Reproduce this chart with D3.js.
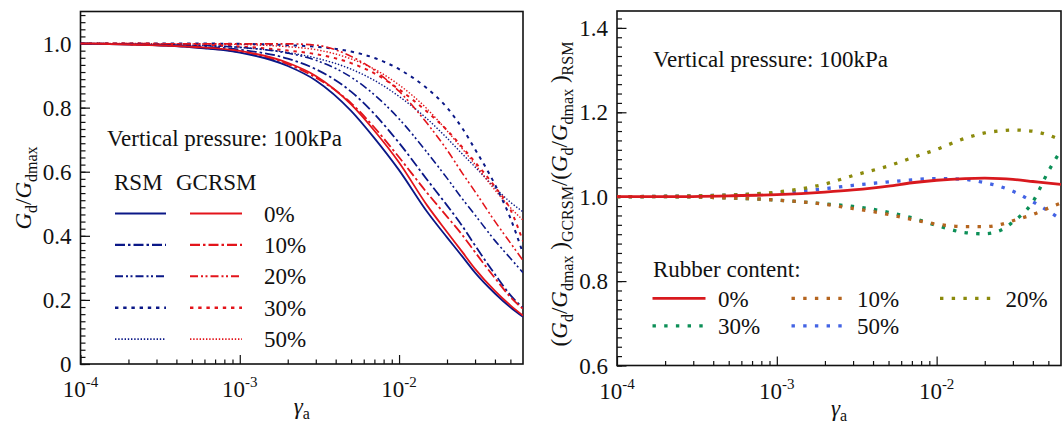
<!DOCTYPE html>
<html>
<head>
<meta charset="utf-8">
<script src="https://cdn.jsdelivr.net/npm/d3@7"></script>
<style>
body { margin: 0; background: #fff; }
svg text { font-family: "Liberation Serif", "Tinos", "Times New Roman", Times, "Nimbus Roman", "Nimbus Roman No9 L", FreeSerif, "Noto Serif", "DejaVu Serif", serif; }
</style>
</head>
<body>
<svg id="chart" width="1062" height="427"></svg>
<script>
// shear strain amplitude grid (read points)
var gamma = [1e-4, 2e-4, 5e-4, 1e-3, 2e-3, 3e-3, 5e-3, 7e-3, 1e-2, 1.5e-2, 2e-2, 2.5e-2, 3e-2, 4e-2, 5e-2, 6e-2];
var contents = ['0%', '10%', '20%', '30%', '50%'];

// left panel: Gd/Gdmax, RSM
var rsm0  = [1.0, 0.997, 0.988, 0.972, 0.930, 0.885, 0.790, 0.705, 0.605, 0.475, 0.395, 0.335, 0.285, 0.220, 0.177, 0.147];
var rsm10 = [1.0, 0.998, 0.992, 0.981, 0.953, 0.920, 0.850, 0.780, 0.690, 0.575, 0.495, 0.430, 0.370, 0.280, 0.215, 0.175];
var rsm20 = [1.0, 0.999, 0.995, 0.988, 0.970, 0.948, 0.895, 0.840, 0.765, 0.660, 0.580, 0.515, 0.465, 0.385, 0.330, 0.285];
var rsm30 = [1.0, 1.0, 1.0, 0.999, 0.995, 0.990, 0.975, 0.955, 0.920, 0.860, 0.800, 0.735, 0.670, 0.560, 0.455, 0.345];
var rsm50 = [1.0, 0.999, 0.995, 0.988, 0.972, 0.955, 0.920, 0.885, 0.835, 0.765, 0.705, 0.655, 0.615, 0.550, 0.505, 0.475];
// left panel: Gd/Gdmax, GCRSM
var gcrsm0  = [1.0, 0.997, 0.990, 0.977, 0.940, 0.899, 0.810, 0.728, 0.629, 0.495, 0.412, 0.349, 0.297, 0.228, 0.183, 0.151];
var gcrsm10 = [1.0, 0.998, 0.989, 0.973, 0.936, 0.894, 0.814, 0.738, 0.645, 0.534, 0.460, 0.402, 0.349, 0.268, 0.209, 0.172];
var gcrsm20 = [1.0, 1.0, 0.999, 0.999, 0.999, 0.995, 0.960, 0.917, 0.851, 0.751, 0.668, 0.595, 0.538, 0.445, 0.378, 0.323];
var gcrsm30 = [1.0, 1.0, 0.997, 0.991, 0.978, 0.967, 0.939, 0.907, 0.857, 0.787, 0.730, 0.676, 0.630, 0.553, 0.482, 0.383];
var gcrsm50 = [1.0, 1.0, 0.999, 0.997, 0.990, 0.981, 0.952, 0.920, 0.871, 0.796, 0.728, 0.671, 0.623, 0.543, 0.488, 0.449];

// right panel: (Gd/Gdmax)GCRSM / (Gd/Gdmax)RSM
var ratio0  = [1.0, 1.0, 1.002, 1.005, 1.011, 1.016, 1.025, 1.033, 1.039, 1.043, 1.044, 1.043, 1.041, 1.036, 1.032, 1.029];
var ratio10 = [1.0, 1.0, 0.997, 0.992, 0.982, 0.972, 0.958, 0.946, 0.935, 0.929, 0.929, 0.934, 0.943, 0.958, 0.973, 0.985];
var ratio20 = [1.0, 1.001, 1.004, 1.011, 1.030, 1.050, 1.073, 1.092, 1.112, 1.138, 1.151, 1.156, 1.158, 1.155, 1.146, 1.134];
var ratio30 = [1.0, 1.0, 0.997, 0.992, 0.983, 0.977, 0.963, 0.950, 0.932, 0.915, 0.912, 0.920, 0.940, 0.988, 1.060, 1.110];
var ratio50 = [1.0, 1.001, 1.004, 1.009, 1.019, 1.027, 1.035, 1.040, 1.043, 1.041, 1.033, 1.024, 1.013, 0.988, 0.966, 0.946];

var xTicks = [1e-4, 1e-3, 1e-2];
var xTickExp = ['-4', '-3', '-2'];
var yTicksLeft = [0, 0.2, 0.4, 0.6, 0.8, 1.0];
var yLabelsLeft = ['0', '0.2', '0.4', '0.6', '0.8', '1.0'];
var yTicksRight = [0.6, 0.8, 1.0, 1.2, 1.4];
var yLabelsRight = ['0.6', '0.8', '1.0', '1.2', '1.4'];

var navy = '#0b1887', red = '#e3141b';
var leftDash = [null, '10,3,2.5,3', '8,3,2,2.5,2,3', '3.4,4.8', '1.4,1.8'];
var leftWidth = [1.8, 1.8, 1.6, 2, 1.4];
var rightColors = ['#d8191e', '#b5651f', '#8b8a0c', '#0c8f57', '#4363e4'];

var svg = d3.select('#chart');

var xL = d3.scaleLog().domain([1e-4, 6e-2]).range([80.5, 523]);
var yL = d3.scaleLinear().domain([0, 1.1]).range([364, 11.5]);
var xR = d3.scaleLog().domain([1e-4, 6e-2]).range([617, 1061]);
var yR = d3.scaleLinear().domain([0.6, 1.44]).range([365.5, 11]);

function txt(g) {
    return g.append('text')
        .attr('fill', '#111')
        .attr('font-size', 23);
}

function frame(x, y, yMajor, yLabels, minorStep, clipId) {
    var x0 = x.range()[0], x1 = x.range()[1], y0 = y.range()[0], y1 = y.range()[1];
    var g = svg.append('g');

    var xMinor = [];
    xTicks.forEach(function(dec) {
        for (var k = 2; k <= 9; k++) {
            if (dec * k < x.domain()[1] * 0.999) xMinor.push(dec * k);
        }
    });
    var yMinor = d3.range(y.domain()[0], y.domain()[1], minorStep);

    g.append('g').attr('transform', 'translate(0,' + y0 + ')')
        .call(d3.axisBottom(x).tickValues(xMinor).tickSize(-4.5).tickFormat(''));
    g.append('g').attr('transform', 'translate(0,' + y0 + ')')
        .call(d3.axisBottom(x).tickValues(xTicks).tickSize(-9).tickFormat(''));
    g.append('g').attr('transform', 'translate(' + x0 + ',0)')
        .call(d3.axisLeft(y).tickValues(yMinor).tickSize(-5).tickFormat(''));
    g.append('g').attr('transform', 'translate(' + x0 + ',0)')
        .call(d3.axisLeft(y).tickValues(yMajor).tickSize(-9.5).tickFormat(''));
    g.selectAll('.domain').remove();
    g.selectAll('.tick line').attr('stroke', '#111').attr('stroke-width', 1.2);

    g.append('rect')
        .attr('x', x0).attr('y', y1)
        .attr('width', x1 - x0).attr('height', y0 - y1)
        .attr('fill', 'none').attr('stroke', '#111').attr('stroke-width', 1.6);

    // tick labels
    xTicks.forEach(function(v, i) {
        var t = txt(g)
            .attr('x', x(v)).attr('y', y0 + 33)
            .attr('text-anchor', 'middle');
        t.append('tspan').text('10');
        t.append('tspan').attr('dy', -10).attr('font-size', 15).text(xTickExp[i]);
    });
    yMajor.forEach(function(v, i) {
        txt(g)
            .attr('x', x0 - 9).attr('y', y(v) + 8)
            .attr('text-anchor', 'end')
            .text(yLabels[i]);
    });

    svg.append('clipPath').attr('id', clipId)
        .append('rect').attr('x', x0).attr('y', y1)
        .attr('width', x1 - x0).attr('height', y0 - y1);

    // x title
    var xt = txt(g)
        .attr('x', (x0 + x1) / 2).attr('y', y0 + 50)
        .attr('text-anchor', 'middle');
    xt.append('tspan').attr('font-style', 'italic').text('\u03b3');
    xt.append('tspan').attr('dy', 5).attr('font-size', 16).text('a');
}

function addPart(t, s, italic, sub) {
    var p = t.append('tspan').text(s);
    if (italic) p.attr('font-style', 'italic');
    if (sub === 1) p.attr('dy', 6).attr('font-size', 16);
    if (sub === -1) p.attr('dy', -6);
    return p;
}

// ---------- left panel ----------
frame(xL, yL, yTicksLeft, yLabelsLeft, 0.2 / 9, 'clipL');

var lineL = d3.line()
    .x(function(d) { return xL(d[0]); })
    .y(function(d) { return yL(d[1]); })
    .curve(d3.curveMonotoneX);

var rsmSeries = [rsm0, rsm10, rsm20, rsm30, rsm50];
var gcrsmSeries = [gcrsm0, gcrsm10, gcrsm20, gcrsm30, gcrsm50];

var plotL = svg.append('g').attr('clip-path', 'url(#clipL)');
[4, 3, 2, 1, 0].forEach(function(i) {
    [[rsmSeries[i], navy], [gcrsmSeries[i], red]].forEach(function(s) {
        plotL.append('path')
            .datum(gamma.map(function(g, j) { return [g, s[0][j]]; }))
            .attr('d', lineL)
            .attr('fill', 'none')
            .attr('stroke', s[1])
            .attr('stroke-width', leftWidth[i])
            .attr('stroke-dasharray', leftDash[i]);
    });
});

txt(svg).attr('x', 107).attr('y', 146).text('Vertical pressure: 100kPa');
txt(svg).attr('x', 114).attr('y', 190).text('RSM');
txt(svg).attr('x', 176).attr('y', 190).text('GCRSM');

contents.forEach(function(c, i) {
    var yy = 213.5 + i * 31.4;
    [[115, 166, navy], [190, 242, red]].forEach(function(s) {
        svg.append('line')
            .attr('x1', s[0]).attr('x2', s[1]).attr('y1', yy).attr('y2', yy)
            .attr('stroke', s[2])
            .attr('stroke-width', leftWidth[i] + 0.4)
            .attr('stroke-dasharray', leftDash[i]);
    });
    txt(svg).attr('x', 264).attr('y', yy + 8).text(c);
});

var ytL = txt(svg)
    .attr('transform', 'translate(31,188) rotate(-90)')
    .attr('text-anchor', 'middle');
addPart(ytL, 'G', true, 0);
addPart(ytL, 'd', false, 1);
addPart(ytL, '/', false, -1);
addPart(ytL, 'G', true, 0);
addPart(ytL, 'dmax', false, 1);

// ---------- right panel ----------
frame(xR, yR, yTicksRight, yLabelsRight, 0.2 / 9, 'clipR');

var lineR = d3.line()
    .x(function(d) { return xR(d[0]); })
    .y(function(d) { return yR(d[1]); })
    .curve(d3.curveMonotoneX);

var ratioSeries = [ratio0, ratio10, ratio20, ratio30, ratio50];
var plotR = svg.append('g').attr('clip-path', 'url(#clipR)');
[4, 3, 2, 1, 0].forEach(function(i) {
    plotR.append('path')
        .datum(gamma.map(function(g, j) { return [g, ratioSeries[i][j]]; }))
        .attr('d', lineR)
        .attr('fill', 'none')
        .attr('stroke', rightColors[i])
        .attr('stroke-width', i === 0 ? 2.8 : 3.3)
        .attr('stroke-dasharray', i === 0 ? null : '3.4,8.3');
});

txt(svg).attr('x', 653).attr('y', 67).text('Vertical pressure: 100kPa');
txt(svg).attr('x', 653).attr('y', 277).text('Rubber content:');

var legPos = [[652.5, 298.3], [791.5, 298.3], [940, 298.3], [652.5, 325.8], [791.5, 325.8]];
contents.forEach(function(c, i) {
    var p = legPos[i];
    svg.append('line')
        .attr('x1', p[0]).attr('x2', p[0] + 53).attr('y1', p[1]).attr('y2', p[1])
        .attr('stroke', rightColors[i])
        .attr('stroke-width', i === 0 ? 2.8 : 3.3)
        .attr('stroke-dasharray', i === 0 ? null : '3.4,8.3');
    txt(svg).attr('x', p[0] + 65.5).attr('y', p[1] + 8.5).text(c);
});

var ytR = txt(svg)
    .attr('transform', 'translate(567,194) rotate(-90)')
    .attr('text-anchor', 'middle');
addPart(ytR, '(', false, 0);
addPart(ytR, 'G', true, 0);
addPart(ytR, 'd', false, 1);
addPart(ytR, '/', false, -1);
addPart(ytR, 'G', true, 0);
addPart(ytR, 'dmax', false, 1);
addPart(ytR, '\u00a0)', false, -1);
addPart(ytR, 'GCRSM', false, 1);
addPart(ytR, '/(', false, -1);
addPart(ytR, 'G', true, 0);
addPart(ytR, 'd', false, 1);
addPart(ytR, '/', false, -1);
addPart(ytR, 'G', true, 0);
addPart(ytR, 'dmax', false, 1);
addPart(ytR, '\u00a0)', false, -1);
addPart(ytR, 'RSM', false, 1);
</script>
</body>
</html>
